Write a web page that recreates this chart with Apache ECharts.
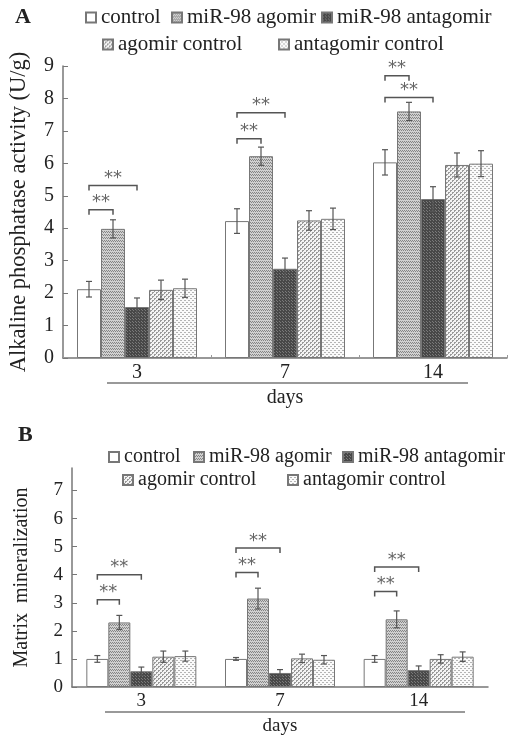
<!DOCTYPE html>
<html>
<head>
<meta charset="utf-8">
<script src="https://cdn.jsdelivr.net/npm/echarts@6/dist/echarts.min.js"></script>
<style>
html, body { margin: 0; padding: 0; background: #fff; }
#main { width: 512px; height: 738px; }
</style>
</head>
<body>
<div id="main"></div>
<script>
var days = ['3', '7', '14'];
var groups = ['control', 'miR-98 agomir', 'miR-98 antagomir', 'agomir control', 'antagomir control'];

/* A: alkaline phosphatase activity (U/g), one array per group, by day */
var alpControl = [2.12, 4.22, 6.03];
var alpAgomir = [3.98, 6.22, 7.6];
var alpAntagomir = [1.57, 2.75, 4.9];
var alpAgoCtrl = [2.1, 4.24, 5.95];
var alpAntaCtrl = [2.15, 4.29, 5.99];
var alpControlSd = [0.24, 0.38, 0.39];
var alpAgomirSd = [0.28, 0.28, 0.28];
var alpAntagomirSd = [0.28, 0.33, 0.38];
var alpAgoCtrlSd = [0.3, 0.3, 0.37];
var alpAntaCtrlSd = [0.28, 0.33, 0.4];
/* significance brackets: [day, from bar, to bar, height] */
var alpStars = [[0, 0, 1, 4.57], [0, 0, 2, 5.32], [1, 0, 1, 6.76], [1, 0, 2, 7.56], [2, 0, 1, 8.7], [2, 0, 2, 8.03]];
var alpTicks = [0, 1, 2, 3, 4, 5, 6, 7, 8, 9];

/* B: matrix mineralization */
var matControl = [1.0, 1.0, 1.0];
var matAgomir = [2.3, 3.15, 2.41];
var matAntagomir = [0.56, 0.5, 0.6];
var matAgoCtrl = [1.08, 1.02, 1.0];
var matAntaCtrl = [1.1, 0.97, 1.08];
var matControlSd = [0.12, 0.05, 0.12];
var matAgomirSd = [0.25, 0.37, 0.3];
var matAntagomirSd = [0.15, 0.12, 0.15];
var matAgoCtrlSd = [0.2, 0.15, 0.15];
var matAntaCtrlSd = [0.18, 0.15, 0.17];
var matStars = [[0, 0, 1, 3.11], [0, 0, 2, 4.0], [1, 0, 1, 4.08], [1, 0, 2, 4.95], [2, 0, 1, 3.4], [2, 0, 2, 4.27]];
var matTicks = [0, 1, 2, 3, 4, 5, 6, 7];

var SERIF = 'Liberation Serif';
var BAR_A = 24, BAR_B = 22;

// little bitmap fills for the hatched bars
function pattern(bg, fg, w, h, dots) {
	var c = document.createElement('canvas');
	c.width = w; c.height = h;
	var ctx = c.getContext('2d');
	ctx.fillStyle = bg;
	ctx.fillRect(0, 0, w, h);
	ctx.fillStyle = fg;
	dots.forEach(function(d) { ctx.fillRect(d[0], d[1], 1, 1); });
	return { image: c, repeat: 'repeat' };
}
var fills = [
	'#ffffff',
	pattern('#d0d0d0', '#848484', 4, 3, [[0, 0], [1, 1], [2, 0], [3, 1]]),
	pattern('#484848', '#7a7a7a', 3, 3, [[0, 0], [1, 1]]),
	pattern('#f4f4f4', '#9a9a9a', 4, 4, [[0, 0], [1, 0], [0, 1], [2, 2], [3, 2], [2, 3]]),
	pattern('#fafafa', '#b4b4b4', 4, 4, [[0, 0], [1, 0], [2, 2], [3, 2]])
];

function bars(means, xi, w) {
	return means.map(function(vals, g) {
		return {
			name: groups[g], type: 'bar', xAxisIndex: xi, yAxisIndex: xi,
			barWidth: w, barGap: '0%', data: vals, silent: true,
			itemStyle: { color: fills[g], borderColor: '#777', borderWidth: 1 }
		};
	});
}

function errors(means, sds, xi, w) {
	var data = [];
	means.forEach(function(vals, g) {
		vals.forEach(function(v, d) { data.push([d, g, v, sds[g][d]]); });
	});
	return {
		type: 'custom', xAxisIndex: xi, yAxisIndex: xi, data: data, z: 5, silent: true,
		encode: { x: 0, y: 2 },
		renderItem: function(params, api) {
			var d = api.value(0), g = api.value(1), v = api.value(2), s = api.value(3);
			var hi = api.coord([d, v + s]), lo = api.coord([d, v - s]);
			var x = hi[0] + (g - 2) * w;
			var st = { stroke: '#555', lineWidth: 1.2 };
			return { type: 'group', children: [
				{ type: 'line', shape: { x1: x, y1: hi[1], x2: x, y2: lo[1] }, style: st },
				{ type: 'line', shape: { x1: x - 3, y1: hi[1], x2: x + 3, y2: hi[1] }, style: st },
				{ type: 'line', shape: { x1: x - 3, y1: lo[1], x2: x + 3, y2: lo[1] }, style: st }
			] };
		}
	};
}

function stars(list, xi, w) {
	return {
		type: 'custom', xAxisIndex: xi, yAxisIndex: xi, data: list, z: 6, silent: true,
		encode: { x: 0, y: 3 },
		renderItem: function(params, api) {
			var d = api.value(0), a = api.value(1), b = api.value(2), h = api.value(3);
			var p = api.coord([d, h]);
			var x1 = p[0] + (a - 2) * w, x2 = p[0] + (b - 2) * w, y = p[1];
			return { type: 'group', children: [
				{ type: 'polyline', shape: { points: [[x1, y + 5], [x1, y], [x2, y], [x2, y + 5]] },
					style: { stroke: '#555', lineWidth: 1.5, fill: null } },
				{ type: 'text', style: { text: '**', x: (x1 + x2) / 2, y: y + 2, align: 'center', verticalAlign: 'bottom',
					fontSize: 18, fontFamily: 'DejaVu Sans', fill: '#666' } }
			] };
		}
	};
}

function legendAt(name, left, top, size) {
	return {
		data: [name], left: left, top: top, padding: 0, itemWidth: 10, itemHeight: 10,
		icon: 'rect', selectedMode: false,
		textStyle: { fontFamily: SERIF, fontSize: size, color: '#222' }
	};
}

function xAxis(grid, ticks, size) {
	return {
		type: 'category', gridIndex: grid, data: days,
		name: 'days', nameLocation: 'middle', nameGap: 30,
		nameTextStyle: { fontFamily: SERIF, fontSize: size, color: '#222' },
		axisLine: { lineStyle: { color: '#777', width: 1.5 } },
		axisTick: { show: ticks, inside: true, length: 3, lineStyle: { color: '#999' } },
		axisLabel: { fontFamily: SERIF, fontSize: size, color: '#222', margin: 5 }
	};
}

function yAxis(grid, max, ticks, name, gap, size, nameSize) {
	return {
		type: 'value', gridIndex: grid, min: 0, max: max,
		name: name, nameLocation: 'middle', nameGap: gap,
		nameTextStyle: { fontFamily: SERIF, fontSize: nameSize, color: '#222' },
		splitLine: { show: false },
		axisLine: { show: true, lineStyle: { color: '#777', width: 1.5 } },
		axisTick: { show: true, inside: true, length: 5, customValues: ticks, lineStyle: { color: '#777' } },
		axisLabel: { fontFamily: SERIF, fontSize: size, color: '#222', margin: 9, customValues: ticks }
	};
}

var chart = echarts.init(document.getElementById('main'));
var option = {
	animation: false,
	backgroundColor: '#fff',
	grid: [
		{ left: 63, top: 66, width: 444, height: 292 },
		{ left: 72, top: 468, width: 416, height: 219 }
	],
	legend: [
		legendAt(groups[0], 85, 7, 21), legendAt(groups[1], 171, 7, 21), legendAt(groups[2], 321, 7, 21),
		legendAt(groups[3], 102, 34, 21), legendAt(groups[4], 278, 34, 21),
		legendAt(groups[0], 108, 447, 20), legendAt(groups[1], 193, 447, 20), legendAt(groups[2], 342, 447, 20),
		legendAt(groups[3], 122, 470, 20), legendAt(groups[4], 287, 470, 20)
	],
	xAxis: [xAxis(0, true, 20), xAxis(1, false, 19)],
	yAxis: [
		yAxis(0, 9, alpTicks, 'Alkaline phosphatase activity (U/g)', 32, 20, 22.5),
		yAxis(1, 7.8, matTicks, 'Matrix  mineralization', 40, 19, 20)
	],
	graphic: [
		{ type: 'text', left: 15, top: 6, style: { text: 'A', font: 'bold 22px "Liberation Serif"', fill: '#222' } },
		{ type: 'text', left: 18, top: 424, style: { text: 'B', font: 'bold 22px "Liberation Serif"', fill: '#222' } },
		{ type: 'line', shape: { x1: 107, y1: 383, x2: 468, y2: 383 }, style: { stroke: '#777', lineWidth: 1.5 } },
		{ type: 'line', shape: { x1: 105, y1: 712, x2: 465, y2: 712 }, style: { stroke: '#777', lineWidth: 1.5 } }
	],
	series: [].concat(
		bars([alpControl, alpAgomir, alpAntagomir, alpAgoCtrl, alpAntaCtrl], 0, BAR_A),
		[errors([alpControl, alpAgomir, alpAntagomir, alpAgoCtrl, alpAntaCtrl],
			[alpControlSd, alpAgomirSd, alpAntagomirSd, alpAgoCtrlSd, alpAntaCtrlSd], 0, BAR_A),
		 stars(alpStars, 0, BAR_A)],
		bars([matControl, matAgomir, matAntagomir, matAgoCtrl, matAntaCtrl], 1, BAR_B),
		[errors([matControl, matAgomir, matAntagomir, matAgoCtrl, matAntaCtrl],
			[matControlSd, matAgomirSd, matAntagomirSd, matAgoCtrlSd, matAntaCtrlSd], 1, BAR_B),
		 stars(matStars, 1, BAR_B)]
	)
};
chart.setOption(option);
</script>
</body>
</html>
